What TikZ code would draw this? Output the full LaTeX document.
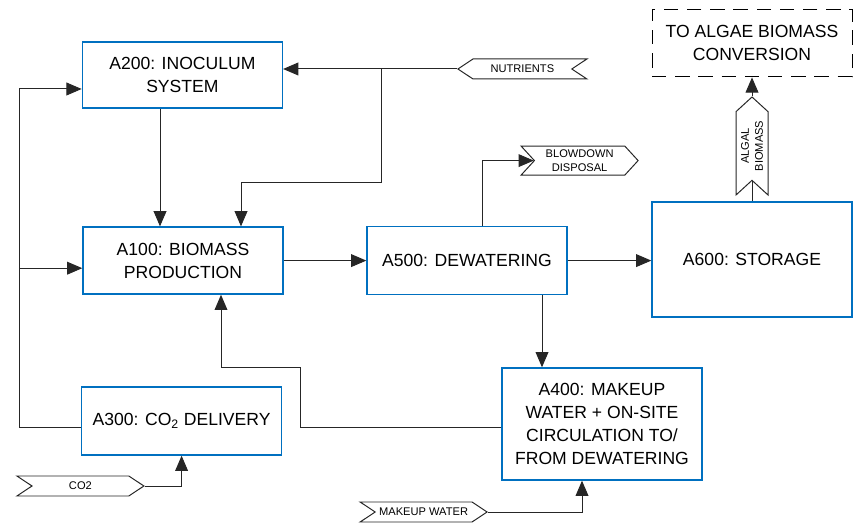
\documentclass[tikz,border=0pt]{standalone}
\usepackage{fontspec}
\setmainfont{Liberation Sans}
\usetikzlibrary{arrows.meta,positioning,shapes.symbols,calc}
\definecolor{boxblue}{RGB}{0,112,192}

\begin{document}
\begin{tikzpicture}[
    box/.style={rectangle, draw=boxblue, line width=1pt, minimum width=5cm, align=center, font=\fontsize{12.5}{16.4}\selectfont},
    tag/.style={signal, draw=black!85, line width=0.7pt, signal pointer angle=67, inner sep=1pt, align=center, font=\fontsize{7.9}{10}\selectfont},
    arrow/.style={-{Triangle[length=3.8mm, width=3.2mm]}, line width=0.7pt, draw=black!85},
    line/.style={line width=0.7pt, draw=black!85}
]
\useasboundingbox (0,0) rectangle (21.4,13.175);

% Process blocks
\node[box, minimum height=1.65cm] (a200) at (4.56,11.3) {A200: INOCULUM\\SYSTEM};
\node[box, minimum height=1.675cm] (a100) at (4.575,6.66) {A100: BIOMASS\\PRODUCTION};
\node[box, minimum height=1.7cm] (a500) at (11.675,6.66) {A500: DEWATERING};
\node[box, minimum height=2.875cm] (a600) at (18.8,6.69) {A600: STORAGE};
\node[box, minimum height=1.7cm] (a300) at (4.54,2.65) {A300: CO\textsubscript{2} DELIVERY};
\node[box, minimum height=2.8cm] (a400) at (15.05,2.575) {A400: MAKEUP\\WATER + ON-SITE\\CIRCULATION TO/\\FROM DEWATERING};

% Downstream (outside the boundary)
\node[box, draw=black, line width=0.7pt, dash pattern=on 0.36cm off 0.22cm, minimum height=1.675cm] (conv) at (18.8,12.09) {TO ALGAE BIOMASS\\CONVERSION};

% Stream tags
\node[tag, signal to=west, signal from=east, minimum width=3.225cm, minimum height=0.5cm] (nutr) at (13.06,11.45) {NUTRIENTS};
\node[tag, signal to=east, signal from=west, signal pointer angle=95, minimum width=2.925cm, minimum height=0.725cm] (blow) at (14.49,9.16) {BLOWDOWN\\DISPOSAL};
\node[tag, signal to=east, signal from=west, minimum width=3.175cm, minimum height=0.5cm] (co2) at (2.01,1.025) {CO2};
\node[tag, signal to=east, signal from=west, minimum width=3.175cm, minimum height=0.5cm] (mkw) at (10.59,0.375) {MAKEUP WATER};
\node[tag, rotate=90, signal to=east, signal from=west, signal pointer angle=95, minimum width=2.45cm, minimum height=0.8cm] (alg) at (18.8,9.525) {ALGAL\\BIOMASS};

% Nutrient feed to inoculum and production
\coordinate (nsplit) at ($(nutr.west)+(-1.9,0)$);
\draw[arrow] (nutr.west) -- (nutr.west -| a200.east);
\draw[arrow] (nsplit) -- ++(0,-2.85) -| ([xshift=1.45cm]a100.north);
\draw[arrow] ([xshift=-0.56cm]a200.south) -- ([xshift=-0.56cm]a200.south |- a100.north);

% CO2 distribution
\coordinate (trunk) at ($([yshift=-0.15cm]a300.west)+(-1.525,0)$);
\coordinate (a100in) at ([yshift=-0.19cm]a100.west);
\draw[arrow] ([yshift=-0.15cm]a300.west) -- (trunk) |- ([yshift=-0.35cm]a200.west);
\draw[arrow] (trunk |- a100in) -- (a100in);
\draw[arrow] (co2.east) -| (a300.south);

% Main train
\draw[arrow] (a100.east) -- (a100.east -| a500.west);
\draw[arrow] (a500.east) -- (a500.east -| a600.west);
\draw[arrow] ([xshift=0.375cm]a500.north) |- (blow.west);
\draw[arrow] ([xshift=1.875cm]a500.south) -- ([xshift=1.875cm]a500.south |- a400.north);

% Water recycle
\coordinate (rbend) at (7.5,4.0);
\draw[arrow] ([yshift=-0.075cm]a400.west) -| (rbend) -| ([xshift=0.95cm]a100.south);
\draw[arrow] (mkw.east) -| ([xshift=-0.5cm]a400.south);

% Product
\draw[line] (a600.north) -- (alg.west);
\draw[arrow] (alg.east) -- (alg.east |- conv.south);

\end{tikzpicture}
\end{document}
